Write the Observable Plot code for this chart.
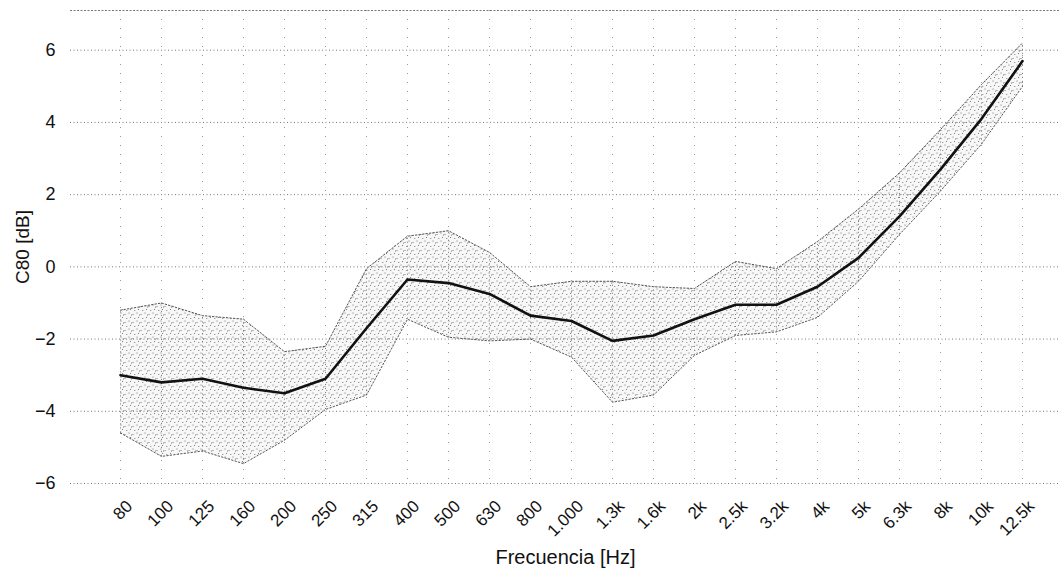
<!DOCTYPE html>
<html>
<head>
<meta charset="utf-8">
<script src="https://cdn.jsdelivr.net/npm/d3@7"></script>
<script src="https://cdn.jsdelivr.net/npm/@observablehq/plot@0.6"></script>
<style>
  html, body { margin: 0; padding: 0; background: #fff; }
  #chart { width: 1060px; height: 568px; }
</style>
</head>
<body>
<div id="chart"></div>
<script>
const freqs = ["80","100","125","160","200","250","315","400","500","630","800","1.000","1.3k","1.6k","2k","2.5k","3.2k","4k","5k","6.3k","8k","10k","12.5k"];
const meanC80 = [-3.0,-3.2,-3.1,-3.35,-3.5,-3.1,-1.7,-0.35,-0.45,-0.75,-1.35,-1.5,-2.05,-1.9,-1.45,-1.05,-1.05,-0.55,0.25,1.4,2.7,4.1,5.7];
const upperC80 = [-1.2,-1.0,-1.35,-1.45,-2.35,-2.2,-0.05,0.85,1.0,0.4,-0.55,-0.4,-0.4,-0.55,-0.6,0.15,-0.05,0.7,1.6,2.6,3.8,5.05,6.2];
const lowerC80 = [-4.6,-5.25,-5.1,-5.45,-4.8,-3.95,-3.55,-1.45,-1.95,-2.05,-2.0,-2.5,-3.75,-3.55,-2.45,-1.9,-1.8,-1.4,-0.4,0.9,2.1,3.4,5.0];
const yTicks = [-6,-4,-2,0,2,4,6];
const yTitle = "C80 [dB]";
const xTitle = "Frecuencia [Hz]";

const data = freqs.map((f, i) => ({f, m: meanC80[i], hi: upperC80[i], lo: lowerC80[i]}));

const svg = Plot.plot({
  width: 1060,
  height: 568,
  marginLeft: 70,
  marginRight: 0,
  marginTop: 10,
  marginBottom: 85,
  style: {background: "#fff", fontFamily: "'Liberation Sans', Arial, sans-serif"},
  x: {type: "point", domain: freqs, padding: 1, align: 0.566},
  y: {domain: [-6, 7.1]},
  marks: [
    Plot.ruleX(freqs, {x: d => d, stroke: "#999", strokeDasharray: "1,8"}),
    Plot.areaY(data, {x: "f", y1: "lo", y2: "hi", fill: "url(#stip)"}),
    Plot.ruleX(data, {x: "f", y1: "lo", y2: "hi", stroke: "#777", strokeDasharray: "1,3"}),
    Plot.ruleY(yTicks, {stroke: "#777", strokeDasharray: "1,2.5"}),
    Plot.frame({anchor: "top", stroke: "#777", strokeDasharray: "1,2.5"}),
    Plot.lineY(data, {x: "f", y: "hi", stroke: "#555", strokeWidth: 1, strokeDasharray: "1.5,2"}),
    Plot.lineY(data, {x: "f", y: "lo", stroke: "#555", strokeWidth: 1, strokeDasharray: "1.5,2"}),
    Plot.lineY(data, {x: "f", y: "m", stroke: "#111", strokeWidth: 2.6}),
    Plot.axisY({ticks: yTicks, tickSize: 0, tickPadding: 15, label: yTitle, labelAnchor: "center", labelArrow: "none", labelOffset: 55}),
    Plot.axisX({tickRotate: -45, tickSize: 0, tickPadding: 20, dx: 9, label: xTitle, labelAnchor: "center", labelArrow: "none", labelOffset: 80})
  ]
});

const defs = d3.select(svg).insert("defs", ":first-child");
const pat = defs.append("pattern").attr("id", "stip").attr("patternUnits", "userSpaceOnUse")
  .attr("width", 8).attr("height", 8);
pat.append("rect").attr("width", 8).attr("height", 8).attr("fill", "#f7f7f7");
[[1,1],[5,2.5],[2.5,5.5],[6.8,6.5],[3.5,3]].forEach(([cx, cy]) =>
  pat.append("circle").attr("cx", cx).attr("cy", cy).attr("r", 0.55).attr("fill", "#666"));

const yTickText = new Set(yTicks.map(v => String(v).replace("-", "\u2212")));
d3.select(svg).selectAll("text").each(function() {
  const t = this.textContent.trim();
  let size = "17px";
  if (yTickText.has(t)) size = "18px";
  if (t === yTitle) size = "19px";
  if (t === xTitle) size = "20px";
  this.style.setProperty("font-size", size, "important");
  this.style.setProperty("font-family", "'Liberation Sans', Arial, sans-serif", "important");
  this.style.setProperty("fill", "#111");
});
document.getElementById("chart").appendChild(svg);
</script>
</body>
</html>
